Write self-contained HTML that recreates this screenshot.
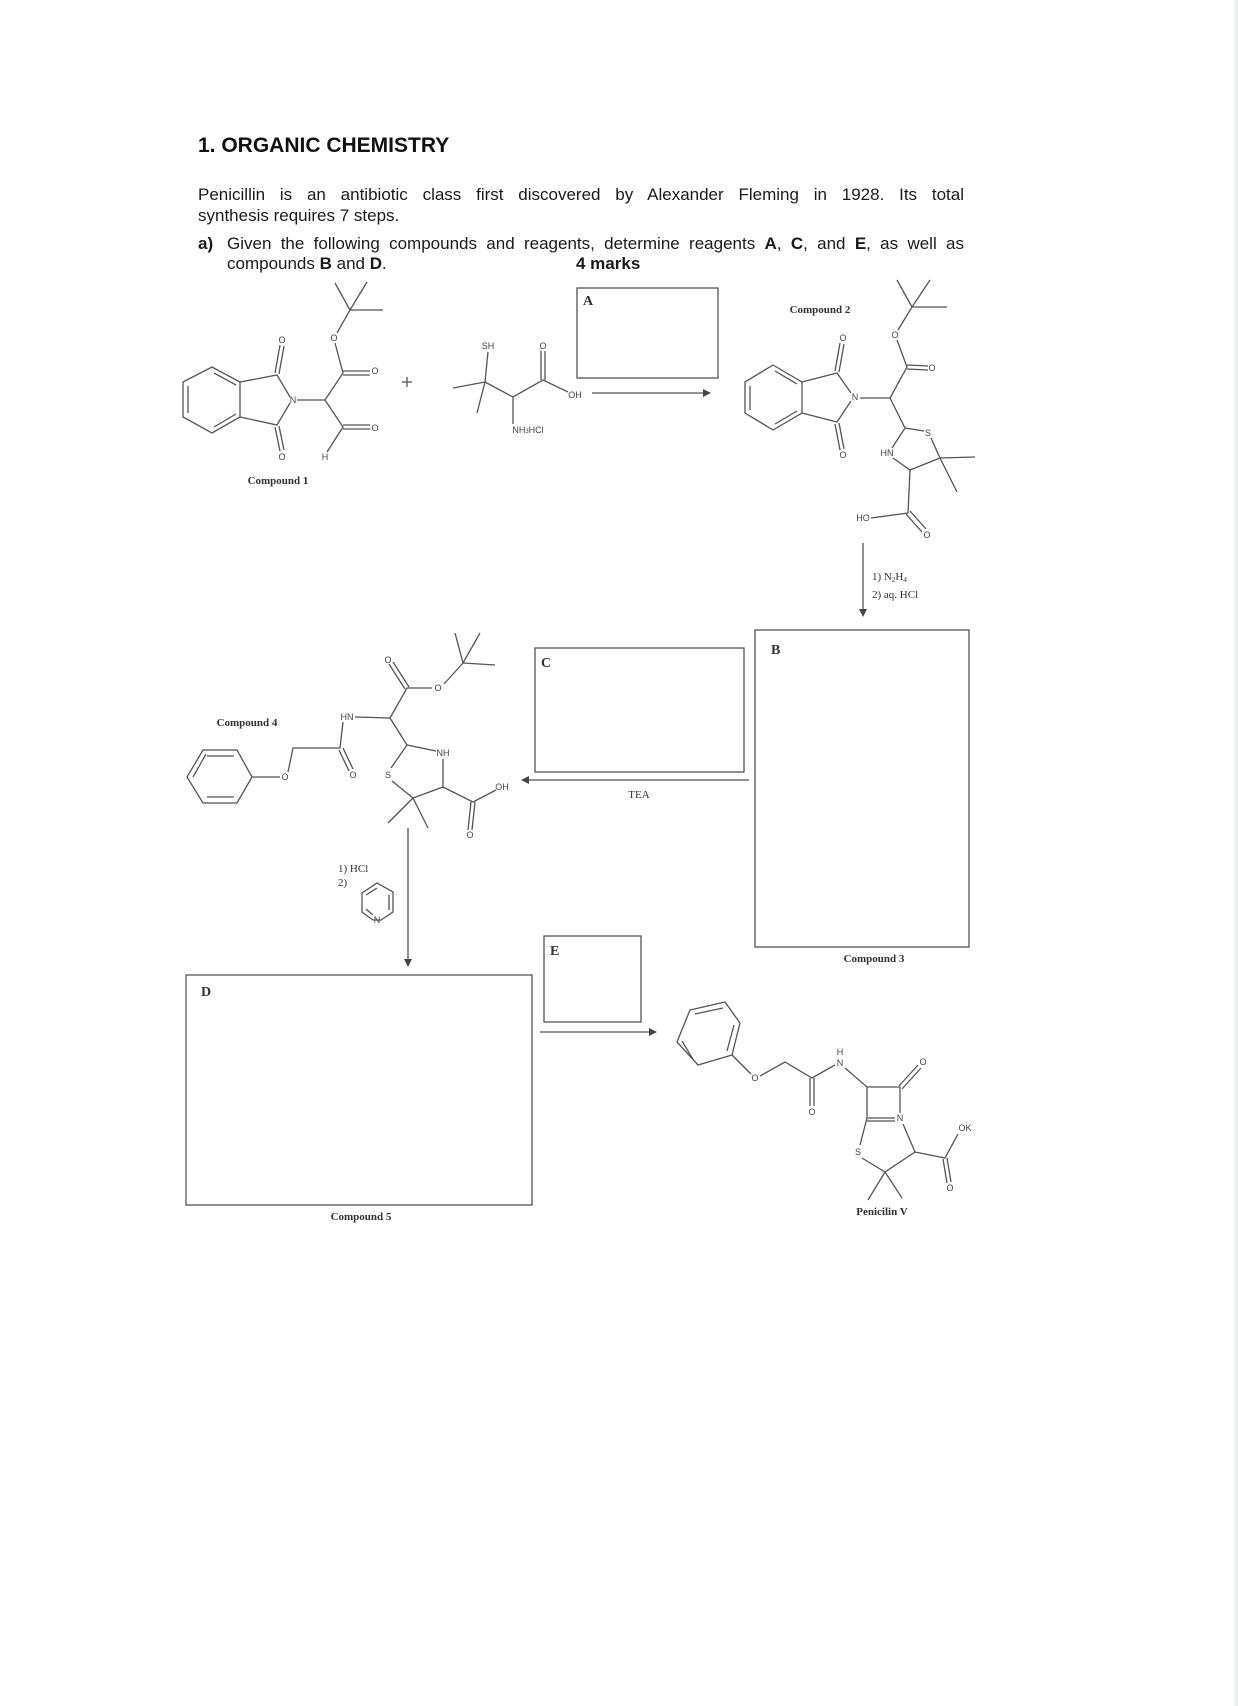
<!DOCTYPE html>
<html><head><meta charset="utf-8"><style>
html,body{margin:0;padding:0;background:#fff;}
svg{display:block;}
.t{font-family:"Liberation Sans",Arial,sans-serif;fill:#111;}
.a{font-family:"Liberation Sans",Arial,sans-serif;font-size:9px;fill:#444;}
.s{font-family:"Liberation Serif",serif;font-weight:bold;font-size:11px;fill:#333;}
.r{font-family:"Liberation Serif",serif;font-size:11px;fill:#333;}
.p{position:absolute;font-family:"Liberation Sans",Arial,sans-serif;font-size:17px;color:#1a1a1a;line-height:21px;}
.j{text-align:justify;text-align-last:justify;white-space:nowrap;}
</style></head><body>
<div style="position:relative;width:1238px;height:1706px;">
<svg width="1238" height="1706" viewBox="0 0 1238 1706" xmlns="http://www.w3.org/2000/svg" style="position:absolute;left:0;top:0">
<rect x="1234" y="0" width="4" height="1706" fill="#f1f2f4"/>
<text class="t" x="198" y="152" font-size="21" font-weight="bold">1. ORGANIC CHEMISTRY</text>

<g stroke="#555" stroke-width="1.3" fill="none">
<rect x="577" y="288" width="141" height="90"/>
<rect x="755" y="630" width="214" height="317"/>
<rect x="535" y="648" width="209" height="124"/>
<rect x="186" y="975" width="346" height="230"/>
<rect x="544" y="936" width="97" height="86"/>
<line x1="592" y1="393" x2="705" y2="393"/>
<line x1="863" y1="543" x2="863" y2="611"/>
<line x1="749" y1="780" x2="527" y2="780"/>
<line x1="408" y1="828" x2="408" y2="961"/>
<line x1="540" y1="1032" x2="651" y2="1032"/>

<polygon points="183,382 212,367 240,382 240,417 212,433 183,417"/>
<line x1="188" y1="386" x2="188" y2="413"/><line x1="214" y1="373" x2="236" y2="385"/><line x1="214" y1="427" x2="236" y2="414"/>
<polyline points="240,382 277,375 290,397"/><polyline points="240,417 277,425 290,403"/>
<line x1="275" y1="373" x2="280" y2="345"/><line x1="279" y1="374" x2="284" y2="346"/>
<line x1="275" y1="427" x2="280" y2="451"/><line x1="279" y1="426" x2="284" y2="450"/>
<line x1="297" y1="400" x2="325" y2="400"/>
<polyline points="325,400 343,373 335,343"/>
<line x1="343" y1="371" x2="370" y2="371"/><line x1="343" y1="375" x2="370" y2="375"/>
<polyline points="337,333 350,310 335,283"/><line x1="350" y1="310" x2="367" y2="282"/><line x1="350" y1="310" x2="383" y2="310"/>
<polyline points="325,400 343,427 327,452"/>
<line x1="343" y1="425" x2="370" y2="425"/><line x1="343" y1="429" x2="370" y2="429"/>
<line x1="402" y1="382" x2="412" y2="382"/><line x1="407" y1="377" x2="407" y2="387"/>
<line x1="453" y1="388" x2="485" y2="382"/><line x1="485" y1="382" x2="477" y2="413"/>
<line x1="485" y1="382" x2="488" y2="352"/>
<polyline points="485,382 513,397 543,380 568,392"/>
<line x1="513" y1="397" x2="513" y2="424"/>
<line x1="541" y1="380" x2="541" y2="351"/><line x1="545" y1="380" x2="545" y2="351"/>

<polygon points="773,365 802,382 802,413 773,430 745,413 745,382"/>
<line x1="750" y1="386" x2="750" y2="410"/><line x1="775" y1="371" x2="797" y2="384"/><line x1="775" y1="424" x2="797" y2="411"/>
<polyline points="802,382 837,373 851,393"/><polyline points="802,413 837,422 851,401"/>
<line x1="835" y1="371" x2="840" y2="343"/><line x1="839" y1="372" x2="844" y2="344"/>
<line x1="835" y1="424" x2="840" y2="450"/><line x1="839" y1="423" x2="844" y2="449"/>
<line x1="860" y1="398" x2="890" y2="398"/>
<polyline points="890,398 907,367 897,340"/>
<line x1="907" y1="365" x2="928" y2="366"/><line x1="907" y1="369" x2="928" y2="370"/>
<polyline points="898,330 912,307 897,280"/><line x1="912" y1="307" x2="930" y2="280"/><line x1="912" y1="307" x2="947" y2="307"/>
<polyline points="890,398 905,428 924,431"/>
<polyline points="931,438 940,458 910,470 893,458"/><line x1="905" y1="428" x2="892" y2="448"/>
<line x1="940" y1="458" x2="975" y2="457"/><line x1="940" y1="458" x2="957" y2="492"/>
<line x1="910" y1="470" x2="908" y2="513"/><line x1="908" y1="513" x2="871" y2="518"/>
<line x1="906" y1="514" x2="922" y2="532"/><line x1="910" y1="511" x2="926" y2="529"/>

<polygon points="203,750 237,750 252,777 237,803 203,803 187,777"/>
<line x1="207" y1="756" x2="234" y2="756"/><line x1="207" y1="797" x2="234" y2="797"/><line x1="193" y1="777" x2="206" y2="754"/>
<line x1="252" y1="777" x2="280" y2="777"/>
<polyline points="288,772 293,748 340,748 343,722"/>
<line x1="339" y1="750" x2="349" y2="771"/><line x1="343" y1="748" x2="353" y2="769"/>
<line x1="355" y1="717" x2="390" y2="718"/>
<polyline points="390,718 407,688 432,688"/>
<line x1="405" y1="689" x2="389" y2="664"/><line x1="409" y1="687" x2="393" y2="662"/>
<polyline points="444,684 463,663 455,633"/><line x1="463" y1="663" x2="480" y2="633"/><line x1="463" y1="663" x2="495" y2="665"/>
<polyline points="390,718 407,745 436,751"/><line x1="443" y1="759" x2="443" y2="787"/>
<polyline points="407,745 391,768"/><polyline points="392,781 413,798 443,787 473,802 496,790"/>
<line x1="413" y1="798" x2="388" y2="823"/><line x1="413" y1="798" x2="428" y2="828"/>
<line x1="471" y1="802" x2="468" y2="830"/><line x1="475" y1="802" x2="472" y2="830"/>

<polygon points="377,883 393,892 393,912 381,920 373,920 362,912 362,893"/>
<line x1="366" y1="895" x2="377" y2="888"/><line x1="389" y1="895" x2="389" y2="910"/><line x1="366" y1="909" x2="373" y2="915"/>

<polygon points="677,1042 690,1010 725,1002 740,1023 732,1055 698,1065"/>
<line x1="695" y1="1014" x2="723" y2="1008"/><line x1="734" y1="1025" x2="727" y2="1051"/><line x1="682" y1="1041" x2="694" y2="1061"/>
<polyline points="732,1055 751,1074"/><polyline points="760,1076 785,1062 812,1078 835,1065"/>
<line x1="810" y1="1078" x2="810" y2="1106"/><line x1="814" y1="1078" x2="814" y2="1106"/>
<polyline points="845,1068 867,1087 900,1087 900,1113"/>
<line x1="867" y1="1087" x2="867" y2="1118"/>
<line x1="867" y1="1118" x2="895" y2="1118"/><line x1="867" y1="1121" x2="895" y2="1121"/>
<line x1="899" y1="1086" x2="918" y2="1065"/><line x1="902" y1="1089" x2="921" y2="1068"/>
<polyline points="867,1118 860,1145"/><polyline points="862,1158 885,1172 915,1152 903,1124"/>
<line x1="885" y1="1172" x2="868" y2="1200"/><line x1="885" y1="1172" x2="902" y2="1198"/>
<polyline points="915,1152 945,1158 958,1134"/>
<line x1="943" y1="1159" x2="947" y2="1183"/><line x1="947" y1="1158" x2="951" y2="1182"/>
</g>
<g fill="#444">
<polygon points="711,393 703,389 703,397"/>
<polygon points="863,617 859,609 867,609"/>
<polygon points="521,780 529,776 529,784"/>
<polygon points="408,967 404,959 412,959"/>
<polygon points="657,1032 649,1028 649,1036"/>
</g>
<g class="a" text-anchor="middle">
<text x="282" y="343">O</text><text x="282" y="460">O</text><text x="293" y="403">N</text>
<text x="375" y="374">O</text><text x="375" y="431">O</text><text x="334" y="341">O</text><text x="325" y="460">H</text>
<text x="488" y="349">SH</text><text x="543" y="349">O</text><text x="575" y="398">OH</text><text x="528" y="433">NH<tspan font-size="6">3</tspan>HCl</text>
<text x="843" y="341">O</text><text x="843" y="458">O</text><text x="855" y="400">N</text>
<text x="932" y="371">O</text><text x="895" y="338">O</text><text x="928" y="436">S</text><text x="887" y="456">HN</text>
<text x="863" y="521">HO</text><text x="927" y="538">O</text>
<text x="285" y="780">O</text><text x="353" y="778">O</text><text x="347" y="720">HN</text><text x="388" y="663">O</text>
<text x="438" y="691">O</text><text x="443" y="756">NH</text><text x="388" y="778">S</text><text x="502" y="790">OH</text><text x="470" y="838">O</text>
<text x="377" y="923">N</text>
<text x="755" y="1081">O</text><text x="812" y="1115">O</text><text x="840" y="1066">N</text><text x="840" y="1055">H</text>
<text x="923" y="1065">O</text><text x="900" y="1121">N</text><text x="858" y="1155">S</text><text x="965" y="1131">OK</text><text x="950" y="1191">O</text>
</g>
<g class="s" text-anchor="middle">
<text x="278" y="484">Compound 1</text>
<text x="820" y="313">Compound 2</text>
<text x="874" y="962">Compound 3</text>
<text x="247" y="726">Compound 4</text>
<text x="361" y="1220">Compound 5</text>
<text x="882" y="1215">Penicilin V</text>
</g>
<g font-family="Liberation Serif,serif" font-weight="bold" font-size="14" fill="#333">
<text x="583" y="305">A</text><text x="771" y="654">B</text><text x="541" y="667">C</text><text x="201" y="996">D</text><text x="550" y="955">E</text>
</g>
<g class="r">
<text x="872" y="580">1) N<tspan font-size="7" dy="2">2</tspan><tspan dy="-2">H</tspan><tspan font-size="7" dy="2">4</tspan></text>
<text x="872" y="598">2) aq. HCl</text>
<text x="639" y="798" text-anchor="middle">TEA</text>
<text x="338" y="872">1) HCl</text>
<text x="338" y="886">2)</text>
</g>
</svg>
<div class="p j" style="left:198px;top:184px;width:766px;">Penicillin is an antibiotic class first discovered by Alexander Fleming in 1928. Its total</div>
<div class="p" style="left:198px;top:205px;">synthesis requires 7 steps.</div>
<div class="p" style="left:198px;top:233px;font-weight:bold;">a)</div>
<div class="p j" style="left:227px;top:233px;width:737px;">Given the following compounds and reagents, determine reagents <b>A</b>, <b>C</b>, and <b>E</b>, as well as</div>
<div class="p" style="left:227px;top:253px;">compounds <b>B</b> and <b>D</b>.</div>
<div class="p" style="left:576px;top:253px;font-weight:bold;">4 marks</div>
</div>
</body></html>
